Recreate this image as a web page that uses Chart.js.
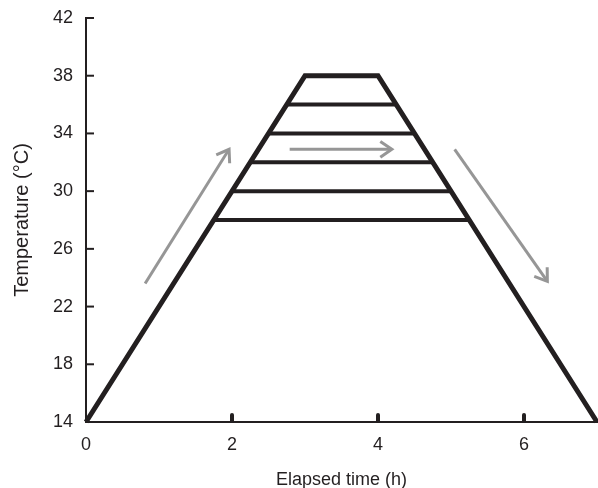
<!DOCTYPE html>
<html>
<head>
<meta charset="utf-8">
<script src="https://cdn.jsdelivr.net/npm/chart.js@4/dist/chart.umd.min.js"></script>
<style>
  html, body { margin: 0; padding: 0; background: #fff; }
  #wrap { width: 598px; height: 488px; }
</style>
</head>
<body>
<div id="wrap"><canvas id="chart"></canvas></div>
<script>
// Heating profile: ramp up, hold, ramp down
const rampTime = [0, 3, 4, 7];
const rampTemp = [14, 38, 38, 14];

// Horizontal rungs between the two ramps
const rungTemps = [28, 30, 32, 34, 36];
const rungStart = [1.75, 2, 2.25, 2.5, 2.75];
const rungEnd = [5.25, 5, 4.75, 4.5, 4.25];

// Grey arrows (time, temperature)
const arrowFrom = [[0.81, 23.6], [2.79, 32.9], [5.05, 32.9]];
const arrowTo = [[1.96, 32.9], [4.19, 32.9], [6.32, 23.75]];

const xTicks = [0, 2, 4, 6];
const yTicks = [14, 18, 22, 26, 30, 34, 38, 42];

const ink = '#231f20';
const grey = '#969696';
const font = "'Liberation Sans', Arial, sans-serif";

const datasets = [{
    data: rampTime.map((t, i) => ({ x: t, y: rampTemp[i] })),
    borderColor: ink,
    borderWidth: 5,
    borderJoinStyle: 'miter',
    showLine: true,
    pointRadius: 0,
    clip: false
}];
rungTemps.forEach((temp, i) => {
    datasets.push({
        data: [{ x: rungStart[i], y: temp }, { x: rungEnd[i], y: temp }],
        borderColor: ink,
        borderWidth: 4,
        showLine: true,
        pointRadius: 0
    });
});

// Arrows and inward tick marks
const extras = {
    id: 'extras',
    afterDatasetsDraw(chart) {
        const ctx = chart.ctx;
        const xs = chart.scales.x, ys = chart.scales.y;
        ctx.save();
        ctx.strokeStyle = grey;
        ctx.lineWidth = 3;
        ctx.lineCap = 'butt';
        ctx.lineJoin = 'miter';
        arrowFrom.forEach((p, i) => {
            const x1 = xs.getPixelForValue(p[0]), y1 = ys.getPixelForValue(p[1]);
            const x2 = xs.getPixelForValue(arrowTo[i][0]), y2 = ys.getPixelForValue(arrowTo[i][1]);
            const a = Math.atan2(y2 - y1, x2 - x1);
            ctx.beginPath();
            ctx.moveTo(x1, y1);
            ctx.lineTo(x2 - 1.5 * Math.cos(a), y2 - 1.5 * Math.sin(a));
            ctx.stroke();
            const h = 14;
            ctx.beginPath();
            ctx.moveTo(x2 - h * Math.cos(a - 0.6), y2 - h * Math.sin(a - 0.6));
            ctx.lineTo(x2, y2);
            ctx.lineTo(x2 - h * Math.cos(a + 0.6), y2 - h * Math.sin(a + 0.6));
            ctx.stroke();
        });

        ctx.strokeStyle = ink;
        const base = ys.getPixelForValue(14);
        ctx.lineWidth = 4;
        ctx.lineCap = 'round';
        xTicks.slice(1).forEach(v => {
            const px = xs.getPixelForValue(v);
            ctx.beginPath();
            ctx.moveTo(px, base - 1);
            ctx.lineTo(px, base - 7);
            ctx.stroke();
        });
        const left = xs.getPixelForValue(0);
        ctx.lineWidth = 2;
        ctx.lineCap = 'butt';
        yTicks.slice(1).forEach(v => {
            const py = ys.getPixelForValue(v);
            ctx.beginPath();
            ctx.moveTo(left, py);
            ctx.lineTo(left + 8, py);
            ctx.stroke();
        });
        ctx.restore();
    }
};

new Chart(document.getElementById('chart'), {
    type: 'scatter',
    data: { datasets },
    plugins: [extras],
    options: {
        responsive: true,
        maintainAspectRatio: false,
        animation: false,
        layout: { padding: { top: 18, right: 1, left: 0, bottom: 0 } },
        plugins: { legend: { display: false }, tooltip: { enabled: false } },
        scales: {
            x: {
                type: 'linear',
                min: 0,
                max: 7,
                afterBuildTicks: s => { s.ticks = xTicks.map(v => ({ value: v })); },
                afterFit: s => { s.height = 66; },
                grid: { display: false, drawTicks: false },
                border: { color: ink, width: 2 },
                ticks: { color: ink, font: { family: font, size: 18 }, padding: 12 },
                title: {
                    display: true,
                    text: 'Elapsed time (h)',
                    color: ink,
                    font: { family: font, size: 18 },
                    padding: { top: 0, bottom: -3 }
                }
            },
            y: {
                min: 14,
                max: 42,
                afterBuildTicks: s => { s.ticks = yTicks.map(v => ({ value: v })); },
                afterFit: s => {
                    s.width = 86;
                    s.paddingTop = 0;
                    s.paddingBottom = 0;
                },
                grid: { display: false, drawTicks: false },
                border: { color: ink, width: 2 },
                ticks: { color: ink, font: { family: font, size: 18 }, padding: 13 },
                title: {
                    display: true,
                    text: 'Temperature (°C)',
                    color: ink,
                    font: { family: font, size: 20 },
                    padding: { top: 10, bottom: 0 }
                }
            }
        }
    }
});
</script>
</body>
</html>
